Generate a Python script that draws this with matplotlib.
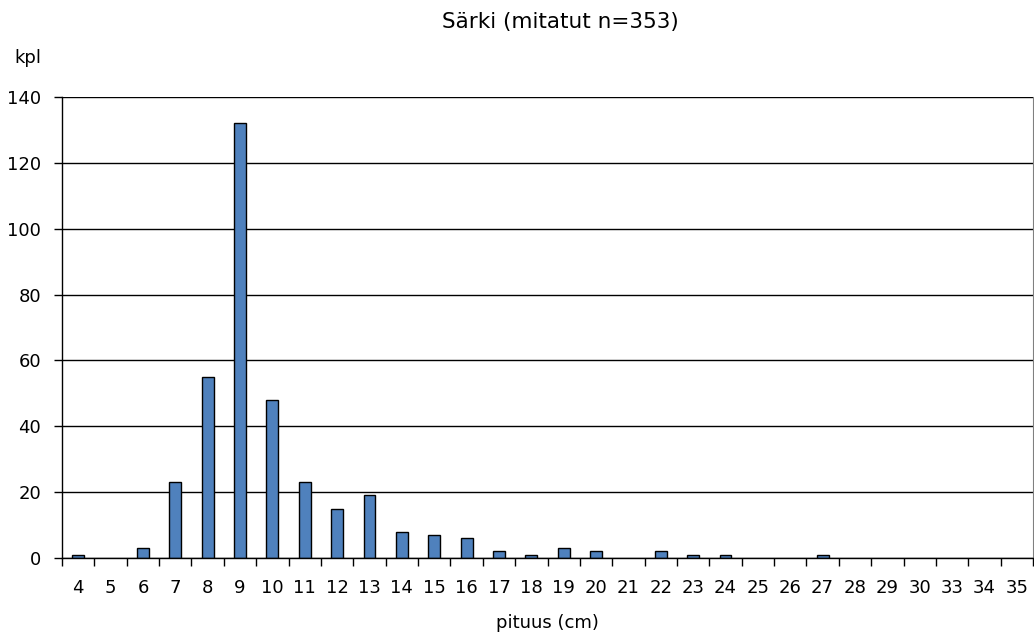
import matplotlib
matplotlib.use('Agg')
import matplotlib.pyplot as plt
import numpy as np

# pituusluokat (cm) ja kappalemäärät
pituus = ['4', '5', '6', '7', '8', '9', '10', '11', '12', '13', '14', '15', '16', '17', '18',
          '19', '20', '21', '22', '23', '24', '25', '26', '27', '28', '29', '30', '33', '34', '35']
kpl = [1, 0, 3, 23, 55, 132, 48, 23, 15, 19, 8, 7, 6, 2, 1,
       3, 2, 0, 2, 1, 1, 0, 0, 1, 0, 0, 0, 0, 0, 0]
y_ticks = [0, 20, 40, 60, 80, 100, 120, 140]

plt.rcParams['font.family'] = ['DejaVu Sans']

fig = plt.figure(figsize=(10.34, 6.32), dpi=100)
ax = fig.add_axes([0.06, 0.117, 0.939, 0.7295])

x = np.arange(len(pituus))
# nollaluokille ei reunaviivaa
lw = [1 if v > 0 else 0 for v in kpl]
ax.bar(x, kpl, width=0.37, color='#4F81BD', edgecolor='black', linewidth=lw, zorder=3)

ax.set_xlim(-0.5, len(pituus) - 0.5)
ax.set_ylim(0, 140)
ax.set_yticks(y_ticks)
ax.yaxis.grid(True, color='black', linewidth=1, zorder=0)

# luokkien rajat pieniksi tikeiksi, nimet keskelle
ax.set_xticks(x)
ax.set_xticklabels(pituus, fontsize=13)
ax.set_xticks(np.arange(len(pituus) + 1) - 0.5, minor=True)
ax.tick_params(axis='x', which='major', length=0, pad=15)
ax.tick_params(axis='x', which='minor', length=6, direction='out', width=1)
ax.tick_params(axis='y', length=6, direction='out', width=1, labelsize=13, pad=9)

ax.spines['top'].set_visible(False)
ax.spines['right'].set_color('#808080')
for s in ['left', 'bottom']:
    ax.spines[s].set_color('black')
    ax.spines[s].set_linewidth(1)
ax.spines['bottom'].set_zorder(4)

ax.set_xlabel('pituus (cm)', fontsize=13, labelpad=12)
fig.text(0.542, 0.965, 'Särki (mitatut n=353)', ha='center', va='center', fontsize=15.5)
fig.text(0.027, 0.908, 'kpl', ha='center', va='center', fontsize=13)

fig.savefig('out.png', dpi=100)
